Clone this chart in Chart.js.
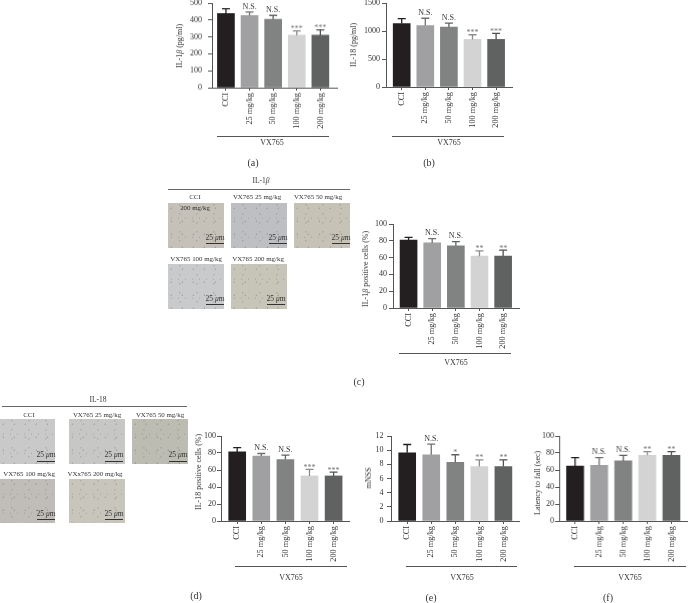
<!DOCTYPE html>
<html>
<head>
<meta charset="utf-8">
<script src="https://cdn.jsdelivr.net/npm/chart.js@4/dist/chart.umd.min.js"></script>
<style>
  html, body { margin: 0; padding: 0; background: #fff; }
  #page { position: relative; width: 688px; height: 603px; overflow: hidden; font-family: "Liberation Serif", serif; color: #333; }
  #page canvas { position: absolute; }
  .txt { position: absolute; white-space: nowrap; line-height: 1; transform: translate(-50%, -50%); will-change: transform; }
  .rule { position: absolute; background: #666; }
  .micro {
    position: absolute;
    background-image:
      radial-gradient(circle at 30% 40%, rgba(70,70,80,.4) 0, rgba(70,70,80,0) 1.1px),
      radial-gradient(circle at 70% 20%, rgba(90,80,70,.3) 0, rgba(90,80,70,0) 1.2px),
      radial-gradient(circle at 50% 80%, rgba(70,75,95,.3) 0, rgba(70,75,95,0) 1px);
    background-size: 11px 13px, 17px 9px, 7px 19px;
  }
</style>
</head>
<body>
<div id="page"></div>
<script>
const categories = ['CCI', '25 mg/kg', '50 mg/kg', '100 mg/kg', '200 mg/kg'];
const barColors = ['#231f20', '#a0a0a3', '#808382', '#d3d3d3', '#5f6261'];
const errColors = ['#231f20', '#6f6f72', '#5f6261', '#8c8c8c', '#4f5251'];

// bar tops, top of the error bars, labels above
const valuesA = [439, 427, 405, 310, 310];
const errTopA = [466, 447, 427, 336, 342];
const marksA = ['', 'N.S.', 'N.S.', '***', '***'];
const ticksA = [0, 100, 200, 300, 400, 500];

const valuesB = [1134, 1098, 1069, 850, 850];
const errTopB = [1222, 1228, 1140, 933, 957];
const marksB = ['', 'N.S.', 'N.S.', '***', '***'];
const ticksB = [0, 500, 1000, 1500];

const valuesC = [81, 77.5, 74, 61.7, 61.7];
const errTopC = [84, 82.6, 79, 68, 69];
const marksC = ['', 'N.S.', 'N.S.', '**', '**'];
const ticksC = [0, 20, 40, 60, 80, 100];

const valuesD = [81.3, 76.3, 72.4, 53, 53];
const errTopD = [86.4, 79.4, 77.4, 60.7, 57.6];
const marksD = ['', 'N.S.', 'N.S.', '***', '***'];
const ticksD = [0, 20, 40, 60, 80, 100];

const valuesE = [9.63, 9.35, 8.27, 7.7, 7.7];
const errTopE = [10.8, 10.84, 9.35, 8.64, 8.64];
const marksE = ['', 'N.S.', '*', '**', '**'];
const ticksE = [0, 2, 4, 6, 8, 10, 12];

const valuesF = [64.5, 65.6, 70.7, 77.3, 77.3];
const errTopF = [74.6, 74.6, 77.3, 81.6, 81.6];
const marksF = ['', 'N.S.', 'N.S.', '**', '**'];
const ticksF = [0, 20, 40, 60, 80, 100];

const groupLabel = 'VX765';

const page = document.getElementById('page');

function addText(html, x, y, size, rotate) {
  const el = document.createElement('div');
  el.className = 'txt';
  el.innerHTML = html;
  el.style.left = x + 'px';
  el.style.top = y + 'px';
  el.style.fontSize = size + 'px';
  if (rotate) el.style.transform = 'translate(-50%, -50%) rotate(' + rotate + 'deg)';
  page.appendChild(el);
}

function addRule(x1, x2, y, h, color) {
  const el = document.createElement('div');
  el.className = 'rule';
  el.style.left = x1 + 'px';
  el.style.width = (x2 - x1) + 'px';
  el.style.top = y + 'px';
  el.style.height = (h || 1) + 'px';
  if (color) el.style.background = color;
  page.appendChild(el);
}

// error bars and N.S./asterisks, the bar chart has no such thing built in
const errorMarks = {
  id: 'errorMarks',
  afterDatasetsDraw(chart, args, opts) {
    const ctx = chart.ctx;
    const xs = chart.scales.x, ys = chart.scales.y;
    opts.err.forEach(function (top, i) {
      const x = xs.getPixelForValue(i + 1);
      const y0 = ys.getPixelForValue(opts.values[i]);
      const y1 = ys.getPixelForValue(top);
      ctx.save();
      ctx.strokeStyle = errColors[i];
      ctx.lineWidth = 1.3;
      ctx.beginPath();
      ctx.moveTo(x, y0);
      ctx.lineTo(x, y1);
      ctx.moveTo(x - 4, y1);
      ctx.lineTo(x + 4, y1);
      ctx.stroke();
      const mark = opts.marks[i];
      ctx.textAlign = 'center';
      if (mark == 'N.S.') {
        ctx.font = '8px "Liberation Serif"';
        ctx.fillStyle = '#333';
        ctx.textBaseline = 'middle';
        ctx.fillText(mark, x, y1 - 5.3);
      } else if (mark) {
        ctx.font = '8px "Liberation Serif"';
        ctx.fillStyle = '#777';
        ctx.textBaseline = 'alphabetic';
        ctx.fillText(mark, x, y1 + 0.6);
      }
      ctx.restore();
    });
  }
};

function drawPanel(p) {
  const yw = 24, padT = 7, xh = 46;
  const W = p.right - p.left + yw + 1;
  const H = p.bottom - p.top + padT + xh;
  const canvas = document.createElement('canvas');
  canvas.width = W;
  canvas.height = H;
  canvas.style.left = (p.left - yw) + 'px';
  canvas.style.top = (p.top - padT) + 'px';
  canvas.style.width = W + 'px';
  canvas.style.height = H + 'px';
  page.appendChild(canvas);

  new Chart(canvas, {
    type: 'bar',
    data: {
      datasets: [{
        data: p.values.map(function (v, i) { return { x: i + 1, y: v }; }),
        backgroundColor: barColors,
        barThickness: 17,
        borderWidth: 0
      }]
    },
    plugins: [errorMarks],
    options: {
      responsive: false,
      animation: false,
      layout: { padding: { top: padT, right: 1, left: 0, bottom: 0 } },
      plugins: {
        legend: { display: false },
        tooltip: { enabled: false },
        errorMarks: { values: p.values, err: p.err, marks: p.marks }
      },
      scales: {
        x: {
          type: 'linear',
          offset: false,
          min: 1 - (p.first - p.left) / p.step,
          max: 1 + (p.right - p.first) / p.step,
          afterFit(s) { s.height = xh; s.paddingLeft = 0; s.paddingRight = 0; },
          border: { color: '#555', width: 1 },
          grid: { offset: false, drawOnChartArea: false, tickLength: 3, color: '#555' },
          ticks: {
            stepSize: 1,
            includeBounds: false,
            autoSkip: false,
            minRotation: 90,
            maxRotation: 90,
            padding: 2,
            color: '#333',
            font: { family: 'Liberation Serif', size: 8.3 },
            callback(v) { return categories[v - 1]; }
          }
        },
        y: {
          min: 0,
          max: p.ticks[p.ticks.length - 1],
          afterFit(s) { s.width = yw; s.paddingTop = 0; s.paddingBottom = 0; },
          border: { color: '#555', width: 1 },
          grid: { drawOnChartArea: false, tickLength: 4, color: '#555' },
          ticks: {
            stepSize: p.ticks[1] - p.ticks[0],
            padding: p.tickPad,
            color: '#333',
            font: { family: 'Liberation Serif', size: 8 },
            callback(v) { return String(v); }
          }
        }
      }
    }
  });

  addText(p.title, p.titleX, p.titleY, 8, -90);
  addRule(p.ruleL, p.ruleR, p.ruleY, 1, '#555');
  addText(groupLabel, p.groupX, p.groupY, 8);
  addText(p.caption, p.capX, p.capY, 10);
}

drawPanel({ values: valuesA, err: errTopA, marks: marksA, ticks: ticksA, tickPad: 6,
  left: 211.5, right: 337, top: 3.3, bottom: 87.7, first: 225.5, step: 23.7,
  title: 'IL-1<i>β</i> (pg/ml)', titleX: 180, titleY: 46,
  ruleL: 216.7, ruleR: 329, ruleY: 136, groupX: 271.7, groupY: 142.7,
  caption: '(a)', capX: 253, capY: 162.7 });

drawPanel({ values: valuesB, err: errTopB, marks: marksB, ticks: ticksB, tickPad: 2,
  left: 385.5, right: 512.3, top: 2.7, bottom: 87.3, first: 401.3, step: 23.75,
  title: 'IL-18 (pg/ml)', titleX: 354, titleY: 45,
  ruleL: 392.3, ruleR: 504.3, ruleY: 136, groupX: 448.7, groupY: 142.7,
  caption: '(b)', capX: 429, capY: 162.7 });

drawPanel({ values: valuesC, err: errTopC, marks: marksC, ticks: ticksC, tickPad: 2,
  left: 392.7, right: 519, top: 223.7, bottom: 308, first: 408.3, step: 23.7,
  title: 'IL-1<i>β</i> positive cells (%)', titleX: 366, titleY: 268.5,
  ruleL: 399, ruleR: 510.7, ruleY: 352.5, groupX: 455.7, groupY: 362.7,
  caption: '(c)', capX: 359, capY: 382 });

drawPanel({ values: valuesD, err: errTopD, marks: marksD, ticks: ticksD, tickPad: 1,
  left: 221, right: 349, top: 435.7, bottom: 521.3, first: 237.2, step: 24.1,
  title: 'IL-18 positive cells (%)', titleX: 199, titleY: 471.7,
  ruleL: 235, ruleR: 347, ruleY: 565.5, groupX: 291, groupY: 577.7,
  caption: '(d)', capX: 196, capY: 596 });

drawPanel({ values: valuesE, err: errTopE, marks: marksE, ticks: ticksE, tickPad: 3.5,
  left: 391, right: 519, top: 435.7, bottom: 521.3, first: 407.2, step: 24.05,
  title: 'mNSS', titleX: 369, titleY: 478,
  ruleL: 405.7, ruleR: 517.3, ruleY: 565.5, groupX: 461.7, groupY: 577.7,
  caption: '(e)', capX: 430.7, capY: 597.7 });

drawPanel({ values: valuesF, err: errTopF, marks: marksF, ticks: ticksF, tickPad: 1,
  left: 559.3, right: 687, top: 435.7, bottom: 521, first: 575.2, step: 24.05,
  title: 'Latency to fall (sec)', titleX: 538, titleY: 482.5,
  ruleL: 574, ruleR: 686, ruleY: 565.5, groupX: 630, groupY: 577.7,
  caption: '(f)', capX: 608.3, capY: 597.7 });

// micrograph panels, no data in them: plain tinted tiles with labels and scale bars
function drawTile(t) {
  const el = document.createElement('div');
  el.className = 'micro';
  el.style.left = t.x + 'px';
  el.style.top = t.y + 'px';
  el.style.width = t.w + 'px';
  el.style.height = t.h + 'px';
  el.style.backgroundColor = t.color;
  page.appendChild(el);
  addText(t.label, t.labelX, t.labelY, 6.9);
  addText('25 <i>μ</i>m', t.barX, t.barY - 5.5, 7.5);
  addRule(t.barX - 9, t.barX + 9, t.barY, 1, '#333');
}

addText('IL-1<i>β</i>', 260.7, 181, 7.5);
addRule(168, 350, 188.5, 1, '#666');
[
  { x: 168, y: 203, w: 56, h: 45, color: '#c5c1b8', label: 'CCI', labelX: 195, labelY: 197.3, barX: 215, barY: 243 },
  { x: 231, y: 203, w: 56, h: 45, color: '#bdbfc2', label: 'VX765 25 mg/kg', labelX: 256.7, labelY: 197.3, barX: 278, barY: 243 },
  { x: 294.3, y: 203, w: 56, h: 45, color: '#c6c2b6', label: 'VX765 50 mg/kg', labelX: 318, labelY: 197.3, barX: 341, barY: 243 },
  { x: 168, y: 264.3, w: 56, h: 45, color: '#c9cacb', label: 'VX765 100 mg/kg', labelX: 195.7, labelY: 259, barX: 215, barY: 304 },
  { x: 231, y: 264.3, w: 56, h: 45, color: '#c7c4b8', label: 'VX765 200 mg/kg', labelX: 257.7, labelY: 259, barX: 276, barY: 304 }
].forEach(drawTile);
addText('200 mg/kg', 195, 207.7, 6.9);

addText('IL-18', 97.7, 400.3, 7.5);
addRule(1.7, 186.7, 405.5, 1, '#666');
[
  { x: 0, y: 419, w: 54.7, h: 45, color: '#c8c9c8', label: 'CCI', labelX: 29.3, labelY: 415, barX: 45.5, barY: 460.5 },
  { x: 69.3, y: 419, w: 55.4, h: 45, color: '#c7c8c6', label: 'VX765 25 mg/kg', labelX: 96.7, labelY: 415, barX: 114, barY: 460.5 },
  { x: 132.3, y: 419, w: 55.4, h: 45, color: '#bdbcb2', label: 'VX765 50 mg/kg', labelX: 160, labelY: 415, barX: 177.5, barY: 460.5 },
  { x: 0, y: 479, w: 54.7, h: 44, color: '#c0bcb7', label: 'VX765 100 mg/kg', labelX: 29, labelY: 473.7, barX: 45.5, barY: 519 },
  { x: 69.3, y: 479, w: 55.4, h: 44, color: '#c8c6bc', label: 'VXx765 200 mg/kg', labelX: 95, labelY: 473.7, barX: 114, barY: 519 }
].forEach(drawTile);
</script>
</body>
</html>
